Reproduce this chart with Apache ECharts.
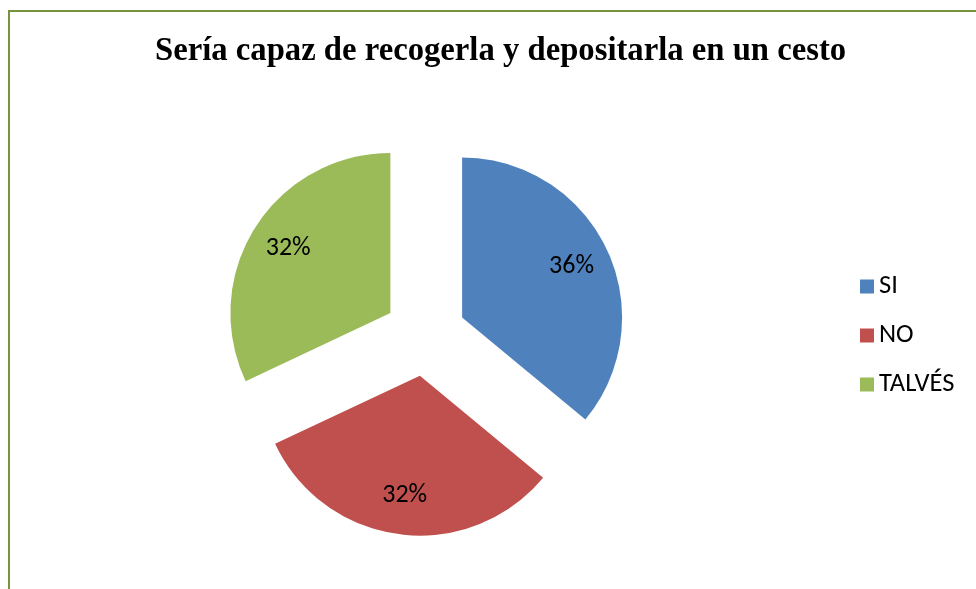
<!DOCTYPE html>
<html>
<head>
<meta charset="utf-8">
<script src="https://cdn.jsdelivr.net/npm/echarts@6/dist/echarts.min.js"></script>
<style>
  html, body { margin: 0; padding: 0; background: #fff; }
  #chart { width: 976px; height: 589px; }
</style>
</head>
<body>
<div id="chart"></div>
<script>
// datos del grafico
const titulo = 'Sería capaz de recogerla y depositarla en un cesto'
const categorias = ['SI', 'NO', 'TALVÉS']
const valores = [36, 32, 32]
const colores = ['#4F81BD', '#C0504D', '#9BBB59']

const fuente = 'Carlito, Roboto, sans-serif'

let chart = echarts.init(document.getElementById('chart'))

// porciones visibles
let porciones = categorias.map((nombre, i) => ({
    name: nombre,
    value: valores[i],
    selected: true,
    itemStyle: { color: colores[i] }
}))

// serie invisible solo para las etiquetas (mas lejos del centro)
let etiquetas = categorias.map((nombre, i) => ({
    name: nombre,
    value: valores[i],
    selected: true
}))

chart.setOption({
    animation: false,
    backgroundColor: '#ffffff',
    title: {
        text: titulo,
        left: 150,
        top: 30,
        textStyle: {
            fontFamily: 'Liberation Serif, Times New Roman, serif',
            fontWeight: 'bold',
            fontSize: 32.7,
            color: '#000000'
        }
    },
    legend: {
        data: categorias,
        orient: 'vertical',
        left: 855,
        top: 268,
        itemWidth: 14,
        itemHeight: 14,
        itemGap: 22,
        icon: 'rect',
        textStyle: { fontFamily: fuente, fontSize: 26.5, color: '#000000' }
    },
    graphic: [{
        type: 'rect',
        shape: { x: 9, y: 11, width: 1000, height: 700 },
        style: { fill: 'none', stroke: '#77933C', lineWidth: 2 },
        silent: true
    }],
    series: [
        {
            type: 'pie',
            center: [425, 335],
            radius: 160,
            startAngle: 90,
            clockwise: true,
            selectedMode: 'multiple',
            selectedOffset: 41,
            label: { show: false },
            labelLine: { show: false },
            emphasis: { disabled: true },
            data: porciones
        },
        {
            type: 'pie',
            center: [425, 335],
            radius: 236,
            startAngle: 90,
            clockwise: true,
            selectedMode: 'multiple',
            selectedOffset: 41,
            silent: true,
            itemStyle: { color: 'rgba(0,0,0,0)' },
            label: {
                show: true,
                position: 'inside',
                formatter: (p) => p.value + '%',
                fontFamily: fuente,
                fontSize: 26,
                color: '#000000'
            },
            labelLine: { show: false },
            emphasis: { disabled: true },
            data: etiquetas
        }
    ]
})
</script>
</body>
</html>
